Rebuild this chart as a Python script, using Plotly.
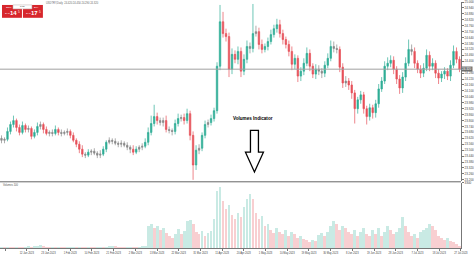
import plotly.graph_objects as go

# ---------------- data ----------------
first_open = 23.62
closes = [
    23.60, 23.61, 23.69, 23.76, 23.80, 23.73, 23.68, 23.75, 23.71, 23.72,
    23.64, 23.68, 23.74, 23.76, 23.71, 23.67, 23.68, 23.67, 23.71, 23.68,
    23.67, 23.68, 23.69, 23.65, 23.60, 23.56, 23.51, 23.46, 23.45, 23.48,
    23.49, 23.47, 23.45, 23.46, 23.51, 23.58, 23.60, 23.59, 23.57, 23.56,
    23.57, 23.55, 23.53, 23.51, 23.48, 23.51, 23.53, 23.54, 23.58, 23.68,
    23.77, 23.84, 23.80, 23.78, 23.80, 23.71, 23.70, 23.69, 23.77, 23.82,
    23.83, 23.80, 23.87, 23.65, 23.35, 23.50, 23.52, 23.65, 23.76, 23.78,
    23.82, 23.90, 24.35, 24.80, 24.68, 24.65, 24.32, 24.47, 24.42, 24.50,
    24.30, 24.42, 24.55, 24.53, 24.68, 24.70, 24.57, 24.52, 24.55, 24.60,
    24.67, 24.73, 24.77, 24.68, 24.62, 24.57, 24.50, 24.37, 24.43, 24.25,
    24.30, 24.38, 24.48, 24.35, 24.27, 24.32, 24.30, 24.28, 24.36, 24.43,
    24.55, 24.53, 24.52, 24.34, 24.18, 24.20, 24.16, 24.08, 23.92, 24.01,
    24.06, 23.92, 23.84, 23.93, 23.88, 23.97, 24.12, 24.20, 24.35, 24.38,
    24.41, 24.32, 24.22, 24.13, 24.24, 24.38, 24.52, 24.50, 24.38, 24.32,
    24.28, 24.33, 24.46, 24.35, 24.38, 24.28, 24.23, 24.27, 24.30, 24.25,
    24.36, 24.50, 24.42, 24.32,
]
# wick lengths beyond the body, in hundredths
up_wick = [
    3, 2, 4, 3, 5, 2, 3, 4, 2, 3,
    2, 3, 4, 3, 2, 3, 2, 3, 4, 2,
    3, 2, 3, 2, 3, 2, 3, 4, 2, 3,
    2, 3, 2, 4, 3, 2, 3, 2, 3, 2,
    3, 2, 3, 2, 4, 3, 2, 3, 4, 5,
    8, 12, 4, 3, 3, 5, 3, 2, 4, 5,
    3, 4, 5, 3, 4, 5, 4, 3, 4, 3,
    4, 3, 4, 17, 10, 5, 4, 6, 4, 5,
    4, 5, 6, 4, 30, 6, 4, 5, 3, 4,
    5, 4, 6, 5, 4, 3, 4, 5, 4, 3,
    4, 5, 6, 4, 3, 5, 4, 3, 4, 5,
    6, 5, 4, 3, 4, 5, 3, 4, 3, 3,
    4, 3, 3, 4, 3, 4, 5, 4, 5, 6,
    5, 4, 3, 4, 5, 6, 10, 5, 4, 3,
    4, 5, 6, 4, 5, 3, 4, 3, 4, 3,
    5, 6, 4, 3,
]
dn_wick = [
    3, 3, 2, 3, 3, 4, 3, 2, 3, 3,
    3, 2, 3, 3, 4, 2, 3, 3, 2, 3,
    3, 2, 3, 3, 2, 3, 4, 3, 3, 2,
    3, 2, 3, 3, 2, 3, 2, 3, 2, 3,
    3, 2, 3, 4, 3, 2, 3, 3, 2, 3,
    3, 3, 4, 3, 4, 3, 3, 4, 3, 3,
    3, 4, 3, 5, 15, 5, 4, 3, 3, 3,
    3, 3, 3, 4, 4, 5, 8, 5, 4, 5,
    6, 4, 4, 5, 4, 3, 5, 4, 3, 4,
    3, 3, 4, 4, 5, 4, 5, 6, 5, 6,
    5, 4, 3, 5, 4, 5, 4, 5, 4, 3,
    3, 4, 4, 5, 5, 4, 5, 6, 15, 5,
    4, 5, 8, 4, 6, 5, 4, 3, 3, 4,
    4, 5, 5, 6, 5, 4, 3, 4, 5, 4,
    5, 4, 3, 5, 4, 5, 6, 4, 5, 4,
    5, 3, 4, 3,
]
volumes = [
    60, 55, 70, 65, 50, 80, 60, 55, 70, 90,
    75, 100, 130, 150, 120, 80, 60, 70, 55, 65,
    60, 50, 55, 60, 70, 65, 80, 60, 55, 70,
    60, 55, 65, 70, 60, 75, 90, 110, 100, 80,
    70, 60, 75, 80, 70, 65, 85, 90, 100,
    1100, 1200, 1000, 1100, 900, 1000, 750, 600, 500, 700,
    950, 700, 850, 1400, 1450, 1250, 800, 700, 850, 600,
    750, 850, 1500, 2900, 3100, 2400, 2000, 2200, 1700, 1500,
    1800, 1600, 2100, 2500, 2750, 2500, 1800, 1500, 1650, 1100,
    1200, 900, 750, 1000, 800, 700, 900, 600, 800, 700,
    500, 600, 450, 400, 300, 400, 350, 650, 750, 600,
    800, 1100, 1400, 1200, 900, 1100, 1000, 800, 700, 900,
    600, 800, 1000, 700, 600, 900, 700, 1000, 600, 800,
    1100, 900, 700, 800, 1000, 1600, 1100, 800, 600, 700,
    500, 800, 900, 1000, 1200, 1100, 900, 600, 500, 400,
    500, 350, 300, 200, 100,
]
date_labels = [
    "3 Jan 2023", "12 Jan 2023", "23 Jan 2023", "1 Feb 2023", "10 Feb 2023",
    "21 Feb 2023", "2 Mar 2023", "13 Mar 2023", "22 Mar 2023", "31 Mar 2023",
    "11 Apr 2023", "20 Apr 2023", "1 May 2023", "10 May 2023", "19 May 2023",
    "30 May 2023", "8 Jun 2023", "19 Jun 2023", "28 Jun 2023", "7 Jul 2023",
    "18 Jul 2023", "27 Jul 2023",
]

# ---------------- derived ----------------
n = len(closes)
opens = [first_open] + closes[:-1]
highs = [max(o, c) + u / 100 for o, c, u in zip(opens, closes, up_wick)]
lows = [min(o, c) - d / 100 for o, c, d in zip(opens, closes, dn_wick)]
idx = list(range(n))

GREEN = "#2fae96"
RED = "#e6515a"
GRAY = "#8a8a8a"
FONT = "Liberation Sans"

groups = {"up": [], "down": [], "flat": []}
for i in idx:
    d = closes[i] - opens[i]
    if d > 0.025:
        groups["up"].append(i)
    elif d < -0.025:
        groups["down"].append(i)
    else:
        groups["flat"].append(i)

fig = go.Figure()
for key, col in (("up", GREEN), ("down", RED), ("flat", GRAY)):
    sel = groups[key]
    style = dict(line=dict(color=col, width=0.7), fillcolor=col)
    fig.add_trace(go.Candlestick(
        x=sel,
        open=[opens[i] for i in sel], high=[highs[i] for i in sel],
        low=[lows[i] for i in sel], close=[closes[i] for i in sel],
        increasing=style, decreasing=style, whiskerwidth=0,
        xaxis="x", yaxis="y", hoverinfo="skip",
    ))

vol_colors = ["rgba(47,174,150,0.26)"]
for i in range(1, n):
    vol_colors.append("rgba(47,174,150,0.26)" if volumes[i] > volumes[i - 1]
                      else "rgba(230,81,90,0.28)")
fig.add_trace(go.Bar(x=idx, y=volumes, marker=dict(color=vol_colors, line=dict(width=0)),
                     width=0.95, xaxis="x2", yaxis="y2", hoverinfo="skip"))

# ---------------- layout ----------------
W_PLOT, H_PLOT = 462, 249
def px(xp):
    return xp / W_PLOT
def py(yp):
    return (H_PLOT - yp) / H_PLOT

last = closes[-1]
xr = [-0.5, n - 0.5]
tickpos = [1.2 + 7.25 * k for k in range(len(date_labels))]
price_ticks = [round(23.20 + 0.06 * k, 3) for k in range(31)]
price_ticks = [t for t in price_ticks if abs(t - last) > 0.035]

fig.update_layout(
    width=474, height=255,
    margin=dict(l=0, r=12, t=0, b=6),
    paper_bgcolor="white", plot_bgcolor="white",
    showlegend=False, bargap=0,
    font=dict(family=FONT, size=3, color="#333"),
    xaxis=dict(domain=[0, 1], range=xr, anchor="y", showticklabels=False,
               showgrid=False, zeroline=False, rangeslider=dict(visible=False),
               ticks=""),
    yaxis=dict(domain=[py(181), 1], range=[23.19, 25.00], side="right",
               anchor="x", showgrid=False, zeroline=False, showline=True,
               linecolor="#777", linewidth=1, ticks="outside", ticklen=2,
               tickcolor="#777", tickmode="array", tickvals=price_ticks,
               ticktext=[f"{t:.3f}" for t in price_ticks],
               tickfont=dict(size=3, color="#444", family=FONT)),
    xaxis2=dict(domain=[0, 1], range=xr, anchor="y2", showgrid=False,
                zeroline=False, showline=True, linecolor="#777", linewidth=1,
                tickmode="array", tickvals=tickpos, ticktext=date_labels,
                ticks="outside", ticklen=2, tickcolor="#777",
                tickfont=dict(size=2.6, color="#444", family=FONT)),
    yaxis2=dict(domain=[0, py(183)], range=[0, 3300], side="right", anchor="x2",
                showgrid=False, zeroline=False, showline=True, linecolor="#777",
                linewidth=1, tickmode="array", tickvals=[3300], ticktext=["3300"],
                ticks="outside", ticklen=2, tickcolor="#777",
                tickfont=dict(size=3, color="#444", family=FONT)),
)

shapes = [
    dict(type="line", xref="paper", yref="y", x0=0, x1=1, y0=last, y1=last,
         line=dict(color="#a0a0a0", width=1)),
    dict(type="line", xref="paper", yref="paper", x0=0, x1=1, y0=py(182), y1=py(182),
         line=dict(color="#666", width=1)),
    dict(type="path", xref="paper", yref="paper",
         path=(f"M {px(251)},{py(130)} L {px(259)},{py(130)} L {px(259)},{py(152)} "
               f"L {px(264)},{py(152)} L {px(255)},{py(172)} L {px(246)},{py(152)} "
               f"L {px(251)},{py(152)} Z"),
         fillcolor="white", line=dict(color="black", width=1.3)),
    dict(type="rect", xref="paper", yref="paper", x0=px(2), x1=px(22), y0=py(16), y1=py(3),
         fillcolor="#d7262c", line=dict(width=0)),
    dict(type="rect", xref="paper", yref="paper", x0=px(23), x1=px(43), y0=py(16), y1=py(3),
         fillcolor="#d7262c", line=dict(width=0)),
    dict(type="rect", xref="paper", yref="paper", x0=px(13), x1=px(32), y0=py(7), y1=py(3),
         fillcolor="white", line=dict(color="#bbb", width=0.5)),
]

def small(x, y, text, size, color, anchor="center"):
    return dict(xref="paper", yref="paper", x=px(x), y=py(y), text=text, xanchor=anchor,
                yanchor="middle", showarrow=False,
                font=dict(size=size, color=color, family=FONT))

ann = [
    dict(xref="paper", yref="y", x=1, y=last, xanchor="left", yanchor="middle",
         text=f"{last:.3f}", showarrow=False, bgcolor="#707070", borderpad=0,
         font=dict(size=3, color="white", family=FONT)),
    small(254, 118, "<b>Volumes Indicator</b>", 4.6, "black"),
    small(1, 185, f"Volumes {volumes[-1]}", 2.6, "#555", "left"),
    small(44, 1.5, f"USDTRY,Daily  {opens[-1]:.3f} {highs[-1]:.3f} {lows[-1]:.3f} {last:.3f}",
          2.6, "#666", "left"),
    small(4, 5, "SELL", 2.2, "white", "left"),
    small(41.5, 5, "BUY", 2.2, "white", "right"),
    small(22.5, 5, "0.01", 2.4, "#222"),
    small(7.5, 12, "24.3", 2.4, "white"),
    small(14, 11.5, "<b>14</b>", 6, "white"),
    small(19, 10, "5", 3, "white"),
    small(28.5, 12, "24.3", 2.4, "white"),
    small(35, 11.5, "<b>17</b>", 6, "white"),
    small(40, 10, "5", 3, "white"),
]

fig.update_layout(shapes=shapes, annotations=ann)
fig.write_html("out.html")
